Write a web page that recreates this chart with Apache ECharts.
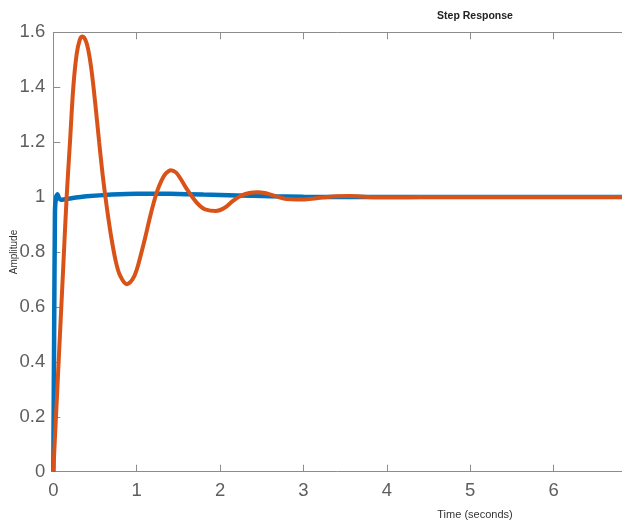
<!DOCTYPE html>
<html>
<head>
<meta charset="utf-8">
<script src="https://cdn.jsdelivr.net/npm/echarts@6/dist/echarts.min.js"></script>
<style>
  html, body { margin: 0; padding: 0; background: #fff; }
  #chart { width: 622px; height: 521px; }
</style>
</head>
<body>
<div id="chart"></div>
<script>
// values (time in seconds, amplitude)
var blueTime = [0, 0.01, 0.02, 0.035, 0.05, 0.07, 0.1, 0.2, 0.4, 0.7, 1.0, 1.4, 1.8, 2.2, 2.6, 3.0, 3.5, 6.82];
var blueAmp  = [0, 0.5, 0.95, 1.003, 1.01, 0.995, 0.99, 0.995, 1.003, 1.009, 1.012, 1.012, 1.009, 1.006, 1.003, 1.001, 1.0, 1.0];

var orangeTime = [0, 0.04, 0.08, 0.12, 0.16, 0.2, 0.24, 0.28, 0.32, 0.35, 0.4, 0.45, 0.5, 0.55, 0.6, 0.65, 0.7, 0.75, 0.8, 0.88,
    0.95, 1.0, 1.05, 1.1, 1.15, 1.2, 1.25, 1.3, 1.35, 1.41, 1.47, 1.53, 1.6, 1.68, 1.75, 1.82, 1.95,
    2.05, 2.15, 2.25, 2.35, 2.45, 2.55, 2.65, 2.75, 2.85, 2.98, 3.1, 3.25, 3.4, 3.55, 3.7, 3.9, 4.1, 4.4, 6.82];
var orangeAmp = [0, 0.25, 0.5, 0.75, 1.0, 1.2, 1.4, 1.52, 1.575, 1.585, 1.56, 1.48, 1.35, 1.2, 1.06, 0.945, 0.845, 0.765, 0.715, 0.683,
    0.7, 0.735, 0.79, 0.85, 0.915, 0.975, 1.025, 1.062, 1.086, 1.098, 1.09, 1.065, 1.03, 0.995, 0.97, 0.955, 0.949,
    0.96, 0.985, 1.005, 1.015, 1.018, 1.014, 1.005, 0.996, 0.992, 0.991, 0.994, 0.999, 1.003, 1.004, 1.002, 0.999, 0.999, 1.0, 1.0];

var xMax = 6.82;   // the figure is cut at the right edge

function pairs(xs, ys) {
    var out = [];
    for (var i = 0; i < xs.length; i++) out.push([xs[i], ys[i]]);
    return out;
}

var axisGrey = '#8c8c8c';
var textGrey = '#5e5e5e';

var myChart = echarts.init(document.getElementById('chart'));

var option = {
    animation: false,
    title: [{
        text: 'Step Response',
        left: 470,
        top: 6,
        textAlign: 'center',
        textStyle: { fontFamily: 'Liberation Sans', fontSize: 10.5, fontWeight: 'bold', color: '#222' }
    }, {
        // x axis name, centred on the full (uncut) axes
        text: 'Time (seconds)',
        left: 470,
        top: 504,
        textAlign: 'center',
        textStyle: { fontFamily: 'Liberation Sans', fontSize: 11, fontWeight: 'normal', color: '#333' }
    }],
    grid: { left: 53.3, right: 0, top: 32.3, bottom: 49.3, containLabel: false, outerBoundsMode: 'none' },
    xAxis: [{
        type: 'value',
        min: 0,
        max: xMax,
        interval: 1,
        axisLine: { show: true, lineStyle: { color: axisGrey, width: 1 } },
        axisTick: { show: true, inside: true, length: 7, lineStyle: { color: axisGrey } },
        axisLabel: { fontFamily: 'Liberation Sans', fontSize: 18.5, color: textGrey, margin: 10, showMaxLabel: false },
        splitLine: { show: false }
    }, {
        type: 'value',
        position: 'top',
        min: 0,
        max: xMax,
        interval: 1,
        axisLine: { show: true, onZero: false, lineStyle: { color: axisGrey, width: 1 } },
        axisTick: { show: true, inside: true, length: 7, lineStyle: { color: axisGrey } },
        axisLabel: { show: false },
        splitLine: { show: false }
    }],
    yAxis: {
        type: 'value',
        min: 0,
        max: 1.6,
        interval: 0.2,
        name: 'Amplitude',
        nameLocation: 'middle',
        nameGap: 34,
        nameMoveOverlap: false,
        nameTextStyle: { fontFamily: 'Liberation Sans', fontSize: 10, color: '#333' },
        axisLine: { show: true, lineStyle: { color: axisGrey, width: 1 } },
        axisTick: { show: true, inside: true, length: 7, lineStyle: { color: axisGrey } },
        axisLabel: {
            fontFamily: 'Liberation Sans', fontSize: 18.5, color: textGrey, margin: 8,
            formatter: function (v) { return String(+v.toFixed(1)); }
        },
        splitLine: { show: false }
    },
    series: [{
        type: 'line',
        data: pairs(blueTime, blueAmp),
        showSymbol: false,
        smooth: 0.12,
        lineStyle: { color: '#0072BD', width: 4.5 },
        z: 2
    }, {
        type: 'line',
        data: pairs(orangeTime, orangeAmp),
        showSymbol: false,
        smooth: 0.35,
        lineStyle: { color: '#D95319', width: 4 },
        z: 3
    }]
};

myChart.setOption(option);
</script>
</body>
</html>
